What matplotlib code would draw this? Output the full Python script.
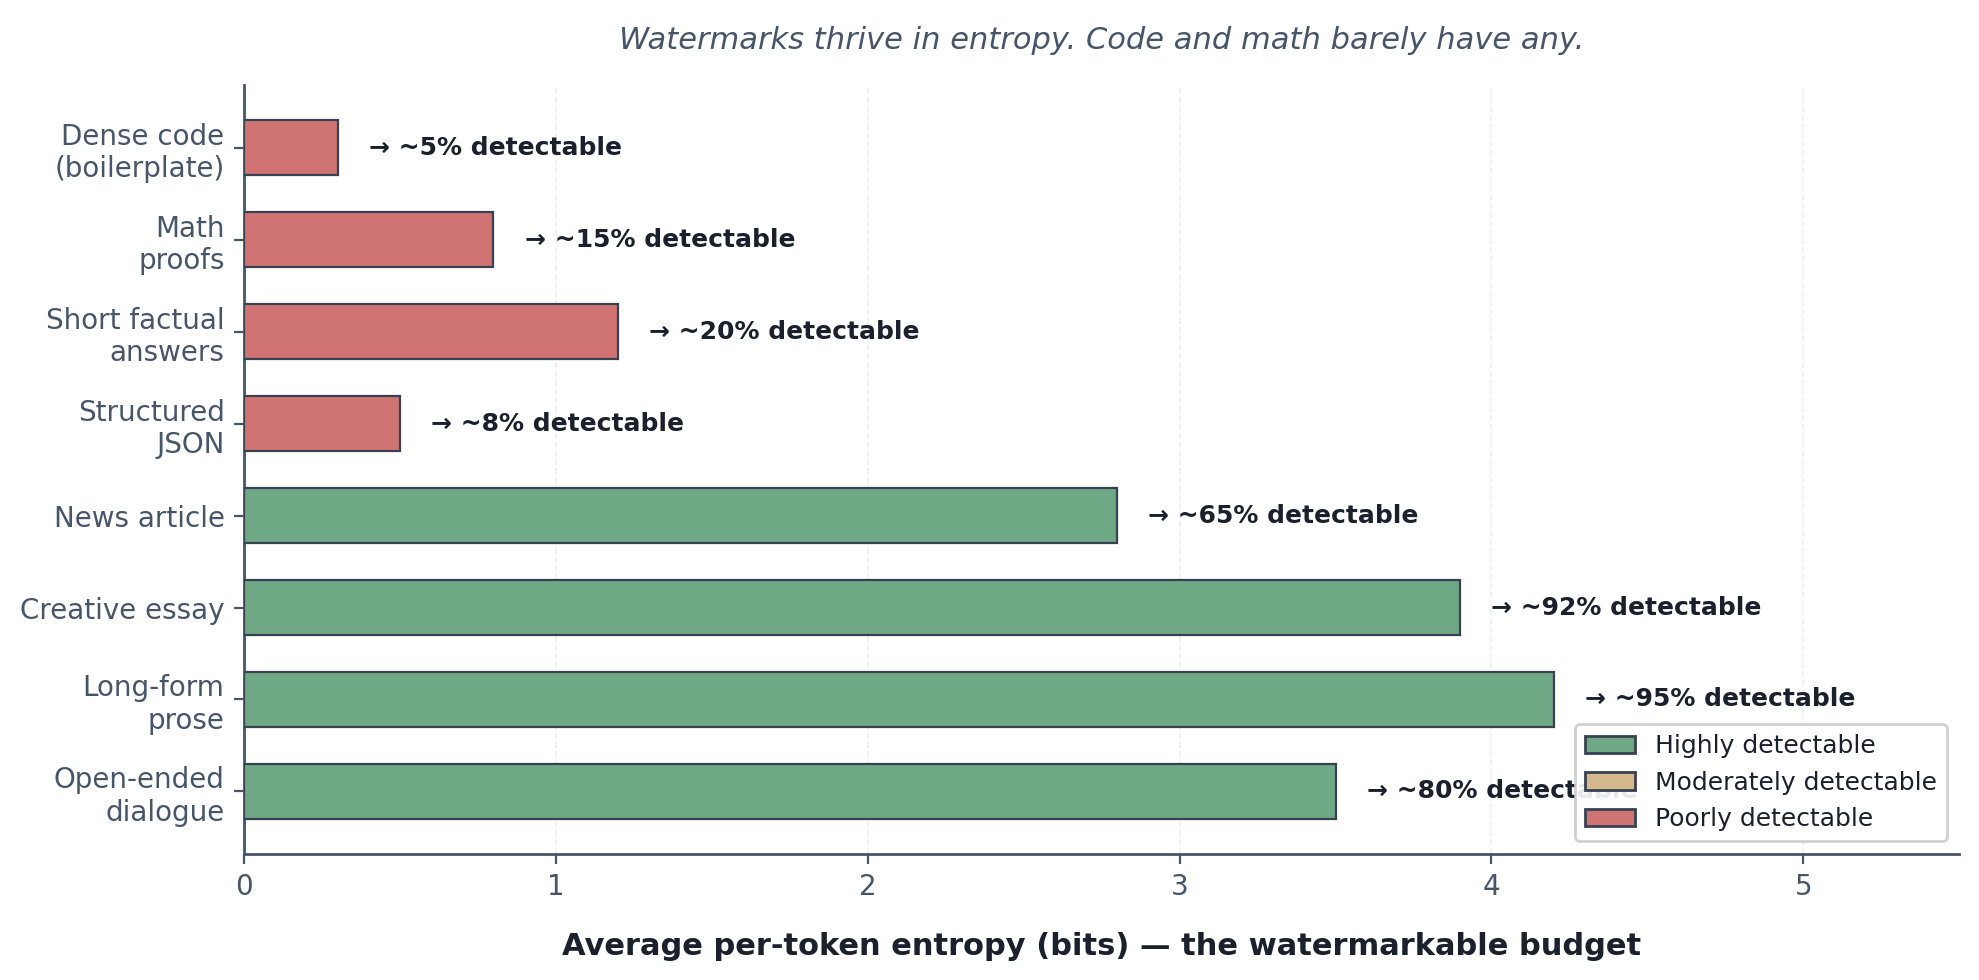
import matplotlib
matplotlib.use("Agg")
import matplotlib.pyplot as plt
from matplotlib.patches import Patch

categories = ["Dense code\n(boilerplate)", "Math\nproofs", "Short factual\nanswers",
              "Structured\nJSON", "News article", "Creative essay",
              "Long-form\nprose", "Open-ended\ndialogue"]
entropy = [0.3, 0.8, 1.2, 0.5, 2.8, 3.9, 4.2, 3.5]
detectable = ["~5%", "~15%", "~20%", "~8%", "~65%", "~92%", "~95%", "~80%"]
level = ["poor", "poor", "poor", "poor", "high", "high", "high", "high"]

colors = {"high": "#6fa884", "moderate": "#d4b98c", "poor": "#cf7472"}
edge = "#374151"
slate = "#475569"
dark = "#1a202c"

fig = plt.figure(figsize=(9.895, 4.9), dpi=200)
ax = fig.add_axes([0.1233, 0.1286, 0.8667, 0.7844])

y = list(range(len(categories)))
ax.barh(y, entropy, height=0.6, color=[colors[l] for l in level],
        edgecolor=edge, linewidth=0.8, zorder=3)
for yi, v, d in zip(y, entropy, detectable):
    ax.text(v + 0.1, yi, f"→ {d} detectable", va="center", ha="left",
            fontsize=9, fontweight="bold", color=dark, zorder=4)

ax.set_yticks(y)
ax.set_yticklabels(categories)
ax.invert_yaxis()
ax.set_xlim(0, 5.5)

ax.grid(axis="x", linestyle="--", color="#e5e7eb", linewidth=0.6, alpha=0.6, zorder=0)
ax.set_axisbelow(True)
for s in ["top", "right"]:
    ax.spines[s].set_visible(False)
for s in ["left", "bottom"]:
    ax.spines[s].set_color(slate)
    ax.spines[s].set_linewidth(1.0)
ax.tick_params(axis="both", colors=slate, labelsize=10, labelcolor=slate)

ax.set_xlabel("Average per-token entropy (bits) — the watermarkable budget",
              fontsize=11, fontweight="bold", color=dark, labelpad=11)
ax.set_title("Watermarks thrive in entropy. Code and math barely have any.",
             fontsize=11, style="italic", color=slate, pad=13)

handles = [Patch(facecolor=colors["high"], edgecolor=edge, label="Highly detectable"),
           Patch(facecolor=colors["moderate"], edgecolor=edge, label="Moderately detectable"),
           Patch(facecolor=colors["poor"], edgecolor=edge, label="Poorly detectable")]
leg = ax.legend(handles=handles, loc="lower right", fontsize=9, framealpha=0.9,
                labelcolor=dark)
leg.set_zorder(10)

fig.savefig("out.png", dpi=200)
